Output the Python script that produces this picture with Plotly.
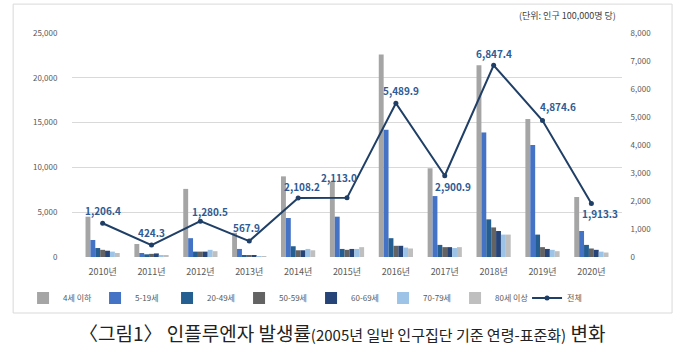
import plotly.graph_objects as go

years = ["2010년", "2011년", "2012년", "2013년", "2014년", "2015년", "2016년", "2017년", "2018년", "2019년", "2020년"]
age_groups = ["4세 이하", "5-19세", "20-49세", "50-59세", "60-69세", "70-79세", "80세 이상"]
age_0_4 = [4500, 1450, 7600, 2700, 9000, 8400, 22600, 9900, 21400, 15400, 6700]
age_5_19 = [1900, 450, 2100, 900, 4350, 4500, 14200, 6800, 13900, 12500, 2900]
age_20_49 = [1000, 300, 600, 200, 1200, 900, 2100, 1350, 4200, 2500, 1350]
age_50_59 = [800, 350, 600, 150, 750, 800, 1250, 1100, 3300, 1100, 950]
age_60_69 = [700, 400, 600, 150, 750, 900, 1250, 1100, 2900, 900, 800]
age_70_79 = [600, 200, 800, 100, 900, 900, 1050, 1000, 2500, 800, 600]
age_80_plus = [450, 150, 650, 100, 750, 1100, 950, 1100, 2500, 650, 500]
total = [1206.4, 424.3, 1280.5, 567.9, 2108.2, 2113.0, 5489.9, 2900.9, 6847.4, 4874.6, 1913.3]
total_name = "전체"
left_ticks = [0, 5000, 10000, 15000, 20000, 25000]
right_ticks = [0, 1000, 2000, 3000, 4000, 5000, 6000, 7000, 8000]

series = [age_0_4, age_5_19, age_20_49, age_50_59, age_60_69, age_70_79, age_80_plus]
colors = ["#A5A5A5", "#4472C4", "#255E91", "#636363", "#264478", "#9DC3E6", "#BFBFBF"]
# label offsets (pixels) relative to each point
label_dx = [0, 0, 10, -3, 4, -8, 5, 8, 0, 15, 9]
label_dy = [-13, -13, -10, -14, -11, -20, -13, 11, -12, -14, 10]

FONT = "Noto Sans CJK KR"
fig = go.Figure()
for name, vals, c in zip(age_groups, series, colors):
    fig.add_trace(go.Bar(x=years, y=vals, name=name, marker=dict(color=c, line=dict(width=0))))

fig.add_trace(go.Scatter(
    x=years, y=total, name=total_name, yaxis="y2", mode="lines+markers",
    line=dict(color="#1F3F66", width=2), marker=dict(size=5, color="#1F3F66"),
))

for yr, v, dx, dy in zip(years, total, label_dx, label_dy):
    fig.add_annotation(x=yr, y=v, xref="x", yref="y2", xshift=dx, yshift=-dy,
                       text=f"<b>{v:,.1f}</b>", showarrow=False,
                       font=dict(family=FONT, size=10, color="#2E5B94"))

fig.update_layout(
    width=680, height=352,
    margin=dict(l=72, r=58, t=33, b=95),
    paper_bgcolor="white", plot_bgcolor="white",
    barmode="group", bargap=0.3, bargroupgap=0.0,
    font=dict(family=FONT, size=9, color="#595959"),
    xaxis=dict(showgrid=False, showline=False, ticks="outside", ticklen=6, tickcolor="white",
               tickfont=dict(size=9, color="#595959")),
    yaxis=dict(range=[0, 25000], tickvals=left_ticks, tickformat=",", showgrid=True,
               gridcolor="#D9D9D9", gridwidth=1, zeroline=False, ticks="outside", ticklen=12,
               tickcolor="white", tickfont=dict(size=8, color="#595959")),
    yaxis2=dict(range=[0, 8000], tickvals=right_ticks, tickformat=",", overlaying="y", side="right",
                showgrid=False, zeroline=False, ticks="outside", ticklen=6, tickcolor="white",
                tickfont=dict(size=8, color="#595959")),
    legend=dict(orientation="h", x=-0.089, xanchor="left", y=-0.183, yanchor="middle",
                font=dict(size=8, color="#595959"), itemwidth=30, tracegroupgap=0,
                entrywidth=27, entrywidthmode="pixels",
                bgcolor="rgba(0,0,0,0)"),
    showlegend=True,
)

fig.add_shape(type="rect", xref="paper", yref="paper", x0=-0.107, x1=1.091, y0=-0.25, y1=1.129,
              line=dict(color="#D9D9D9", width=1), layer="below")

fig.add_annotation(xref="paper", yref="paper", x=0.993, y=1.076, xanchor="right", yanchor="middle",
                   text="(단위: 인구 100,000명 당)", showarrow=False,
                   font=dict(family=FONT, size=9, color="#404040"))

fig.add_annotation(xref="paper", yref="paper", x=0.49, y=-0.335, xanchor="center", yanchor="middle",
                   text="〈그림1〉 인플루엔자 발생률<span style='font-size:15px'>(2005년 일반 인구집단 기준 연령-표준화)</span> 변화",
                   showarrow=False, font=dict(family=FONT, size=19, color="#222222"))

fig.write_html("out.html")
